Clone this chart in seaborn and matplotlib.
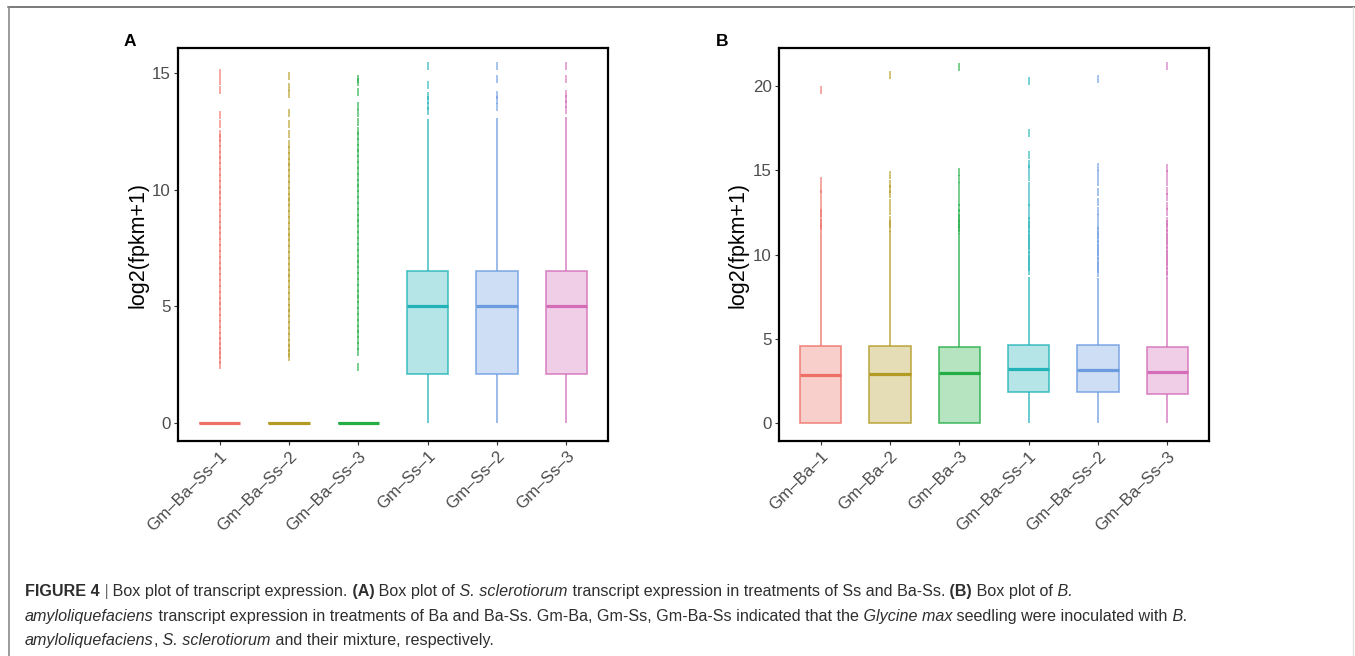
import numpy as np
import pandas as pd
import matplotlib
matplotlib.use("Agg")
import matplotlib.pyplot as plt
import matplotlib.transforms as mtransforms
import seaborn as sns
from matplotlib.lines import Line2D
from matplotlib import colors as mcolors

# ---------------- data ----------------
cats_A = ["Gm–Ba–Ss–1", "Gm–Ba–Ss–2", "Gm–Ba–Ss–3", "Gm–Ss–1", "Gm–Ss–2", "Gm–Ss–3"]
cats_B = ["Gm–Ba–1", "Gm–Ba–2", "Gm–Ba–3", "Gm–Ba–Ss–1", "Gm–Ba–Ss–2", "Gm–Ba–Ss–3"]

A_q1 = [0, 0, 0, 2.09, 2.09, 2.09]
A_med = [0, 0, 0, 5.01, 5.01, 5.01]
A_q3 = [0, 0, 0, 6.51, 6.51, 6.51]
A_wlo = [0, 0, 0, 0, 0, 0]
A_whi = [0, 0, 0, 13.03, 13.05, 13.12]
A_out = [
    [2.5, 2.7, 2.9, 3.1, 3.3, 3.5, 3.75, 4.0, 4.25, 4.5, 4.75, 5.0, 5.25, 5.5, 5.75, 6.0,
     6.25, 6.5, 6.75, 7.0, 7.25, 7.5, 7.75, 8.0, 8.25, 8.5, 8.75, 9.0, 9.25, 9.5, 9.75,
     10.0, 10.25, 10.5, 10.75, 11.0, 11.25, 11.5, 11.75, 12.0, 12.2, 12.4, 12.8, 13.2,
     14.25, 14.65, 15.0],
    [2.85, 3.0, 3.2, 3.45, 3.7, 3.95, 4.2, 4.45, 4.7, 4.95, 5.2, 5.45, 5.7, 5.95, 6.2,
     6.45, 6.7, 6.95, 7.2, 7.45, 7.7, 7.95, 8.2, 8.45, 8.7, 8.95, 9.2, 9.45, 9.7, 9.95,
     10.2, 10.45, 10.7, 10.95, 11.2, 11.45, 11.7, 11.95, 12.4, 12.8, 13.3, 14.1, 14.4, 14.85],
    [2.4, 3.05, 3.3, 3.55, 3.8, 4.05, 4.3, 4.55, 4.8, 5.05, 5.3, 5.55, 5.8, 6.05, 6.3,
     6.55, 6.8, 7.05, 7.3, 7.55, 7.8, 8.05, 8.3, 8.55, 8.8, 9.05, 9.3, 9.55, 9.8, 10.05,
     10.3, 10.55, 10.8, 11.05, 11.3, 11.55, 11.8, 12.05, 12.3, 12.5, 12.9, 13.3, 13.6,
     14.2, 14.6, 14.75],
    [13.35, 13.6, 13.85, 14.0, 14.5, 15.3],
    [13.55, 13.85, 14.05, 14.75, 15.3],
    [13.4, 13.65, 13.9, 14.1, 14.75, 15.3],
]

B_q1 = [0, 0, 0, 1.84, 1.84, 1.72]
B_med = [2.85, 2.89, 3.0, 3.19, 3.17, 3.05]
B_q3 = [4.55, 4.58, 4.53, 4.63, 4.63, 4.49]
B_wlo = [0, 0, 0, 0, 0, 0]
B_whi = [11.27, 11.42, 11.27, 8.7, 8.6, 8.6]
B_out = [
    [11.5, 11.7, 11.9, 12.15, 12.45, 12.65, 13.1, 13.6, 13.9, 14.35, 19.75],
    [11.6, 11.8, 12.05, 12.6, 13.05, 13.6, 13.9, 14.2, 14.7, 20.65],
    [11.45, 11.6, 11.8, 12.0, 12.2, 12.45, 12.75, 13.1, 13.6, 14.1, 14.5, 14.9, 21.15],
    [9.0, 9.25, 9.5, 9.75, 10.0, 10.25, 10.5, 10.75, 11.0, 11.25, 11.5, 11.75, 12.0, 12.3,
     12.75, 13.1, 13.6, 14.1, 14.6, 15.1, 15.4, 15.9, 17.2, 20.3],
    [8.9, 9.15, 9.4, 9.65, 9.9, 10.15, 10.4, 10.65, 10.9, 11.15, 11.4, 11.7, 12.2, 12.6,
     13.1, 13.7, 14.3, 14.8, 15.2, 20.45],
    [8.8, 9.05, 9.3, 9.55, 9.8, 10.05, 10.3, 10.55, 10.8, 11.05, 11.3, 11.55, 11.8, 12.0,
     12.5, 12.9, 13.4, 13.8, 14.3, 14.8, 15.15, 21.2],
]

A_yticks = [0, 5, 10, 15]
B_yticks = [0, 5, 10, 15, 20]
y_title = "log2(fpkm+1)"

box_colors = ["#EE6F66", "#B39A22", "#22AD45", "#22B3B8", "#6C9BE0", "#D36DB8"]

caption_lines = [
    [("FIGURE 4", "bold"), (" |", "bar"), (" Box plot of transcript expression.", "normal"),
     (" (A)", "bold"), (" Box plot of", "normal"), (" S. sclerotiorum", "italic"),
     (" transcript expression in treatments of Ss and Ba-Ss.", "normal"),
     (" (B)", "bold"), (" Box plot of", "normal"), (" B.", "italic")],
    [("amyloliquefaciens", "italic"),
     (" transcript expression in treatments of Ba and Ba-Ss. Gm-Ba, Gm-Ss, Gm-Ba-Ss indicated that the", "normal"),
     (" Glycine max", "italic"), (" seedling were inoculated with", "normal"), (" B.", "italic")],
    [("amyloliquefaciens", "italic"), (",", "normal"), (" S. sclerotiorum", "italic"),
     (" and their mixture, respectively.", "normal")],
]

# ---------------- styling ----------------
sns.set_style("white")
plt.rcParams["font.family"] = ["Liberation Sans", "DejaVu Sans"]

W, H = 1355, 656
fig = plt.figure(figsize=(W / 100, H / 100), dpi=100)
fig.patch.set_facecolor("white")


def fax(l, t, r, b):
    return fig.add_axes([l / W, 1 - b / H, (r - l) / W, (b - t) / H])


def build(cats, q1, med, q3, wlo, whi, out, n=200):
    rows = []
    for i, c in enumerate(cats):
        vals = [wlo[i]] + [q1[i]] * n + [med[i]] * n + [q3[i]] * n + [whi[i]] + list(out[i])
        rows += [(c, v) for v in vals]
    return pd.DataFrame(rows, columns=["sample", "value"])


def draw(ax, df, cats, yticks, label_x):
    sns.boxplot(data=df, x="sample", y="value", hue="sample", order=cats, hue_order=cats,
                palette=dict(zip(cats, box_colors)), width=0.6, showcaps=False,
                linewidth=1.2, whis=1.5, fliersize=6.2,
                flierprops=dict(marker="|", markeredgewidth=1.2),
                legend=False, ax=ax)
    for p in ax.patches:
        v = p.get_path().vertices
        i = int(round(float(np.mean(v[:, 0]))))
        c = box_colors[min(max(i, 0), 5)]
        p.set_facecolor(mcolors.to_rgba(c, 0.33))
        p.set_edgecolor(mcolors.to_rgba(c, 0.8))
        p.set_linewidth(1.2)
    for ln in ax.lines:
        x = np.asarray(ln.get_xdata(), float)
        if len(x) == 0:
            continue
        i = int(round(float(x.mean())))
        c = box_colors[min(max(i, 0), 5)]
        if ln.get_linestyle() in ("None", "", " "):
            ln.set_markeredgecolor(mcolors.to_rgba(c, 0.7))
            ln.set_markerfacecolor(mcolors.to_rgba(c, 0.7))
        elif len(x) >= 2 and abs(x[0] - x[-1]) > 1e-9:
            ln.set_color(c)
            ln.set_linewidth(2.3)
            ln.set_zorder(4)
        else:
            ln.set_color(mcolors.to_rgba(c, 0.8))
            ln.set_linewidth(1.2)
    lo, hi = df["value"].min(), df["value"].max()
    pad = 0.05 * (hi - lo)
    ax.set_ylim(lo - pad, hi + pad)
    ax.set_xlim(-0.6, len(cats) - 0.4)
    ax.set_yticks(yticks)
    ax.set_xticks(range(len(cats)))
    ax.set_xticklabels(cats, rotation=45, ha="right", rotation_mode="anchor")
    shift = mtransforms.ScaledTranslation(5 / 100, -1 / 100, fig.dpi_scale_trans)
    for t in ax.get_xticklabels():
        t.set_transform(t.get_transform() + shift)
    ax.set_xlabel("")
    ax.set_ylabel(y_title, fontsize=15.5, color="black")
    ax.yaxis.label.set_va("center")
    ax.yaxis.set_label_coords(label_x, 0.5)
    ax.grid(False)
    for s in ax.spines.values():
        s.set_visible(True)
        s.set_color("black")
        s.set_linewidth(1.6)
    ax.tick_params(axis="both", which="major", bottom=True, left=True, length=3.2, width=0.8,
                   color="#333333", pad=2.2, labelsize=12.2, labelcolor="#4D4D4D")


axA = fax(178, 48, 608, 441)
axB = fax(779, 48, 1209, 441)
draw(axA, build(cats_A, A_q1, A_med, A_q3, A_wlo, A_whi, A_out), cats_A, A_yticks, -0.092)
draw(axB, build(cats_B, B_q1, B_med, B_q3, B_wlo, B_whi, B_out), cats_B, B_yticks, -0.095)

fig.text(130 / W, 1 - 41 / H, "A", ha="center", va="center", fontsize=12.5,
         fontweight="bold", color="black")
fig.text(722 / W, 1 - 41 / H, "B", ha="center", va="center", fontsize=12.5,
         fontweight="bold", color="black")

# frame lines
fig.add_artist(Line2D([8 / W, 1.0], [1 - 7 / H, 1 - 7 / H], color="#7A7A7A", lw=1.4))
fig.add_artist(Line2D([9 / W, 9 / W], [0, 1 - 7 / H], color="#8A8A8A", lw=1.2))
fig.add_artist(Line2D([1353 / W, 1353 / W], [0, 1 - 7 / H], color="#E2E2E2", lw=1.0))

# caption
cap = fig.add_axes([0, 0, 1, 1], zorder=-1)
cap.axis("off")
cap.set_xlim(0, 1)
cap.set_ylim(0, 1)
cap_size = 11.6
cap_color = "#2E2E2E"
bottoms = [599, 624, 648]
for line, yb in zip(caption_lines, bottoms):
    prev = None
    for txt, sty in line:
        kw = dict(fontsize=cap_size, color=cap_color, ha="left", va="bottom")
        if sty == "bold":
            kw["fontweight"] = "bold"
        elif sty == "italic":
            kw["fontstyle"] = "italic"
        elif sty == "bar":
            kw["color"] = "#6E6E6E"
        if prev is None:
            prev = cap.text(25 / W, 1 - yb / H, txt, transform=cap.transAxes, **kw)
        else:
            prev = cap.annotate(txt, xy=(1, 0), xycoords=prev, **kw)

fig.savefig("out.png", dpi=100, facecolor="white")
